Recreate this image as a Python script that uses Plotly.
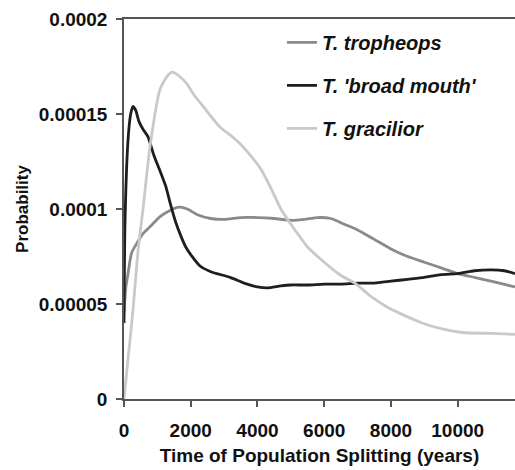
import plotly.graph_objects as go

# Time of population splitting (years)
trop_t = [0, 50, 120, 230, 420, 570, 800, 1080, 1350, 1650, 1900, 2200, 2600, 3000, 3500, 4000,
          4500, 5000, 5400, 5800, 6200, 6600, 7000, 7500, 8000, 8500, 9000, 9500, 10000, 10500, 11000, 11717]
trop_p = [45, 58, 66, 77, 83, 87, 91, 96, 99, 101, 100, 97, 95, 94.5, 95.5, 95.5,
          95, 94, 94.5, 95.5, 95, 92, 89, 84, 79, 75, 72, 69, 66, 64, 62, 59]

broad_t = [0, 30, 120, 200, 270, 350, 450, 570, 720, 900, 1080, 1250, 1400, 1550, 1700, 1850, 2000,
           2280, 2600, 3180, 3600, 4000, 4300, 4700, 5000, 5500, 6000, 6500, 7000, 7500, 8000, 8500,
           9000, 9500, 10000, 10500, 11000, 11400, 11717]
broad_p = [40, 93, 136, 150, 154, 152, 146, 142, 138, 128, 120, 112, 102, 93, 86, 80, 76,
           70, 67, 64, 61, 59, 58.5, 59.5, 60, 60, 60.5, 60.5, 61, 61, 62, 63,
           64, 65.5, 66, 67.5, 68, 67.5, 66]

grac_t = [0, 80, 270, 420, 570, 780, 1080, 1300, 1450, 1650, 1880, 2100, 2370, 2880, 3180, 3500,
          3800, 4100, 4400, 4700, 4920, 5120, 5500, 6000, 6500, 6920, 7400, 7920, 8400, 8930, 9500,
          10130, 11000, 11717]
grac_p = [0, 14, 47, 78, 100, 133, 163, 170, 172, 170, 166, 160, 154, 143, 139, 134,
          128, 121, 111, 100, 94, 89, 80, 72, 65, 61, 54, 48, 44, 40, 37,
          35, 34.5, 34]

x_ticks = [0, 2000, 4000, 6000, 8000, 10000]
x_ticklabels = ["0", "2000", "4000", "6000", "8000", "10000"]
y_ticks = [0, 0.00005, 0.0001, 0.00015, 0.0002]
y_ticklabels = ["0", "0.00005", "0.0001", "0.00015", "0.0002"]

series = [
    ("T. tropheops", trop_t, trop_p, "#8a8a8a"),
    ("T. 'broad mouth'", broad_t, broad_p, "#1e1e1e"),
    ("T. gracilior", grac_t, grac_p, "#c9c9c9"),
]

fig = go.Figure()
for name, t, p, col in series:
    fig.add_trace(go.Scatter(
        x=t, y=[v * 1e-6 for v in p], mode="lines", name=name, legendgroup=name,
        line=dict(color=col, width=2.8, shape="spline", smoothing=0.6),
    ))

FONT = "Liberation Sans, Arial, sans-serif"
fig.update_layout(
    width=515, height=470,
    margin=dict(l=124, r=0, t=19, b=71, autoexpand=False),
    paper_bgcolor="white", plot_bgcolor="white",
    font=dict(family=FONT, size=18, color="#111"),
    showlegend=True,
    legend=dict(
        x=0.404, xanchor="left", y=0.99, yanchor="top",
        font=dict(family=FONT, size=20, color="#111", weight="bold", style="italic"),
        traceorder="grouped", tracegroupgap=14,
        bgcolor="rgba(0,0,0,0)",
    ),
    xaxis=dict(
        range=[0, 11717], tickvals=x_ticks, ticktext=x_ticklabels, ticks="outside", ticklen=6,
        tickwidth=1.5, automargin=False,
        tickcolor="#555", showline=True, linecolor="#555", linewidth=1.5, mirror=True,
        showgrid=False, zeroline=False, ticklabelstandoff=7,
        tickfont=dict(family=FONT, size=19, weight="bold"),
        title=dict(text="Time of Population Splitting (years)", standoff=9,
                   font=dict(family=FONT, size=19, weight="bold")),
    ),
    yaxis=dict(
        range=[0, 0.0002], tickvals=y_ticks, ticktext=y_ticklabels, ticks="outside",
        ticklen=6, tickwidth=1.5, tickcolor="#555", showline=True, linecolor="#555",
        linewidth=1.5, showgrid=False, zeroline=False, automargin=False, ticklabelstandoff=5,
        tickfont=dict(family=FONT, size=19, weight="bold"),
        title=dict(text="Probability", standoff=6,
                   font=dict(family=FONT, size=17, weight="bold")),
    ),
)

fig.write_html("out.html", config={"displayModeBar": False},
               post_script="document.body.style.margin='0';document.body.style.overflow='hidden';")
